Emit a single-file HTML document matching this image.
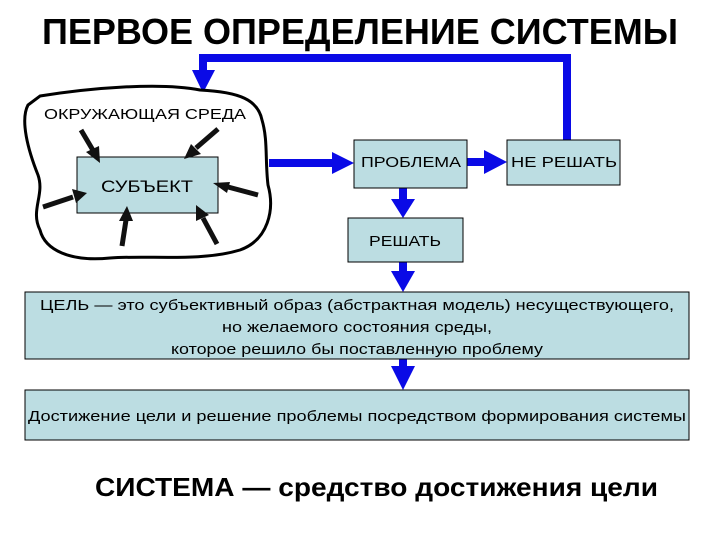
<!DOCTYPE html>
<html><head><meta charset="utf-8"><style>
html,body{margin:0;padding:0;background:#fff;}
svg{display:block;font-family:"Liberation Sans",sans-serif;}
</style></head><body>
<svg width="720" height="540" viewBox="0 0 720 540" xmlns="http://www.w3.org/2000/svg">
<rect width="720" height="540" fill="#fff"/>
<text x="42" y="44" font-size="36" font-weight="bold" textLength="636" lengthAdjust="spacingAndGlyphs">ПЕРВОЕ ОПРЕДЕЛЕНИЕ СИСТЕМЫ</text>
<!-- feedback line -->
<path d="M567 140 V58 H203 V72" fill="none" stroke="#0a0ae6" stroke-width="8"/>
<polygon points="192,70 215,70 203,93" fill="#0a0ae6"/>
<!-- cloud -->
<path d="M40 96 C90 88 160 82 200 90 C240 92 258 100 262 120 C268 140 265 160 268 185 C275 210 268 240 240 250 C200 262 150 255 110 258 C70 262 45 250 40 230 C30 210 45 195 38 175 C28 150 20 120 28 105 Z" fill="#fff" stroke="#000" stroke-width="3"/>
<text x="44" y="119" font-size="15" textLength="202" lengthAdjust="spacingAndGlyphs">ОКРУЖАЮЩАЯ СРЕДА</text>
<rect x="77" y="157" width="141" height="56" fill="#bcdde2" stroke="#000" stroke-width="1"/>
<text x="101" y="192" font-size="17" textLength="92" lengthAdjust="spacingAndGlyphs">СУБЪЕКТ</text>
<!-- black arrows -->
<g stroke="#111" stroke-width="5" fill="#111">
<line x1="81" y1="130" x2="94" y2="152"/>
<line x1="218" y1="129" x2="196" y2="148"/>
<line x1="43" y1="207" x2="73" y2="197"/>
<line x1="258" y1="195" x2="228" y2="187"/>
<line x1="122" y1="246" x2="126" y2="220"/>
<line x1="217" y1="244" x2="203" y2="218"/>
</g>
<g fill="#111">
<polygon points="100,163 86,152 99,146"/>
<polygon points="184,159 191,144 201,154"/>
<polygon points="87,193 72,189 76,203"/>
<polygon points="213,183 230,182 227,193"/>
<polygon points="127,206 119,221 133,221"/>
<polygon points="196,205 196,221 209,215"/>
</g>
<!-- blue arrows -->
<g fill="#0a0ae6">
<rect x="269" y="159" width="65" height="8"/><polygon points="332,152 354,163 332,174"/>
<rect x="467" y="158" width="20" height="8"/><polygon points="484,150 507,162 484,174"/>
<rect x="399" y="188" width="8" height="14"/><polygon points="391,199 415,199 403,218"/>
<rect x="399" y="262" width="8" height="12"/><polygon points="391,271 415,271 403,292"/>
<rect x="399" y="358" width="8" height="12"/><polygon points="391,366 415,366 403,390"/>
</g>
<rect x="354" y="140" width="113" height="48" fill="#bcdde2" stroke="#000" stroke-width="1"/>
<text x="361" y="167" font-size="15" textLength="100" lengthAdjust="spacingAndGlyphs">ПРОБЛЕМА</text>
<rect x="507" y="140" width="113" height="45" fill="#bcdde2" stroke="#000" stroke-width="1"/>
<text x="511" y="167" font-size="15" textLength="106" lengthAdjust="spacingAndGlyphs">НЕ РЕШАТЬ</text>
<rect x="348" y="218" width="115" height="44" fill="#bcdde2" stroke="#000" stroke-width="1"/>
<text x="369" y="246" font-size="15" textLength="72" lengthAdjust="spacingAndGlyphs">РЕШАТЬ</text>
<rect x="25" y="292" width="664" height="67" fill="#bcdde2" stroke="#000" stroke-width="1"/>
<g font-size="15" text-anchor="middle">
<text x="357" y="310" textLength="634" lengthAdjust="spacingAndGlyphs">ЦЕЛЬ — это субъективный образ (абстрактная модель) несуществующего,</text>
<text x="357" y="332" textLength="270" lengthAdjust="spacingAndGlyphs">но желаемого состояния среды,</text>
<text x="357" y="354" textLength="372" lengthAdjust="spacingAndGlyphs">которое решило бы поставленную проблему</text>
</g>
<rect x="25" y="390" width="664" height="50" fill="#bcdde2" stroke="#000" stroke-width="1"/>
<text x="357" y="421" font-size="15" text-anchor="middle" textLength="658" lengthAdjust="spacingAndGlyphs">Достижение цели и решение проблемы посредством формирования системы</text>
<text x="95" y="496" font-size="26" font-weight="bold" textLength="563" lengthAdjust="spacingAndGlyphs">СИСТЕМА — средство достижения цели</text>
</svg>
</body></html>
